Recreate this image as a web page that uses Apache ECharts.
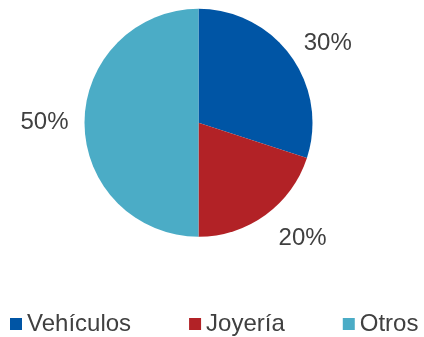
<!DOCTYPE html>
<html>
<head>
<meta charset="utf-8">
<style>
  html, body { margin: 0; padding: 0; background: #ffffff; }
  #chart { width: 424px; height: 337px; }
</style>
<script src="https://cdn.jsdelivr.net/npm/echarts@6/dist/echarts.min.js"></script>
</head>
<body>
<div id="chart"></div>
<script>
// Share by category (percent)
const categories = ['Vehículos', 'Joyería', 'Otros'];
const shares = [30, 20, 50];
const colors = ['#0055A5', '#B22226', '#4BACC6'];
// Outward distance of each percentage label from the rim
const labelOffsets = [21, 29, 20];

const chart = echarts.init(document.getElementById('chart'), null, { renderer: 'canvas' });

const data = categories.map((name, i) => ({
  name: name,
  value: shares[i],
  itemStyle: { color: colors[i] },
  labelLine: { show: false, length: labelOffsets[i], length2: 0 }
}));

chart.setOption({
  animation: false,
  backgroundColor: '#ffffff',
  legend: {
    data: categories,
    left: 10,
    top: 312,
    width: 414,
    padding: 0,
    icon: 'rect',
    itemWidth: 12,
    itemHeight: 12,
    itemGap: 58,
    textStyle: {
      fontFamily: 'Liberation Sans, Arial, sans-serif',
      fontSize: 24,
      color: '#404040'
    }
  },
  series: [{
    type: 'pie',
    center: [198.5, 122.8],
    radius: 114,
    startAngle: 90,
    clockwise: true,
    avoidLabelOverlap: false,
    label: {
      show: true,
      position: 'outside',
      distanceToLabelLine: -4,
      formatter: p => p.value + '%',
      fontFamily: 'Liberation Sans, Arial, sans-serif',
      fontSize: 24,
      color: '#404040'
    },
    emphasis: { disabled: true },
    data: data
  }]
});
</script>
</body>
</html>
